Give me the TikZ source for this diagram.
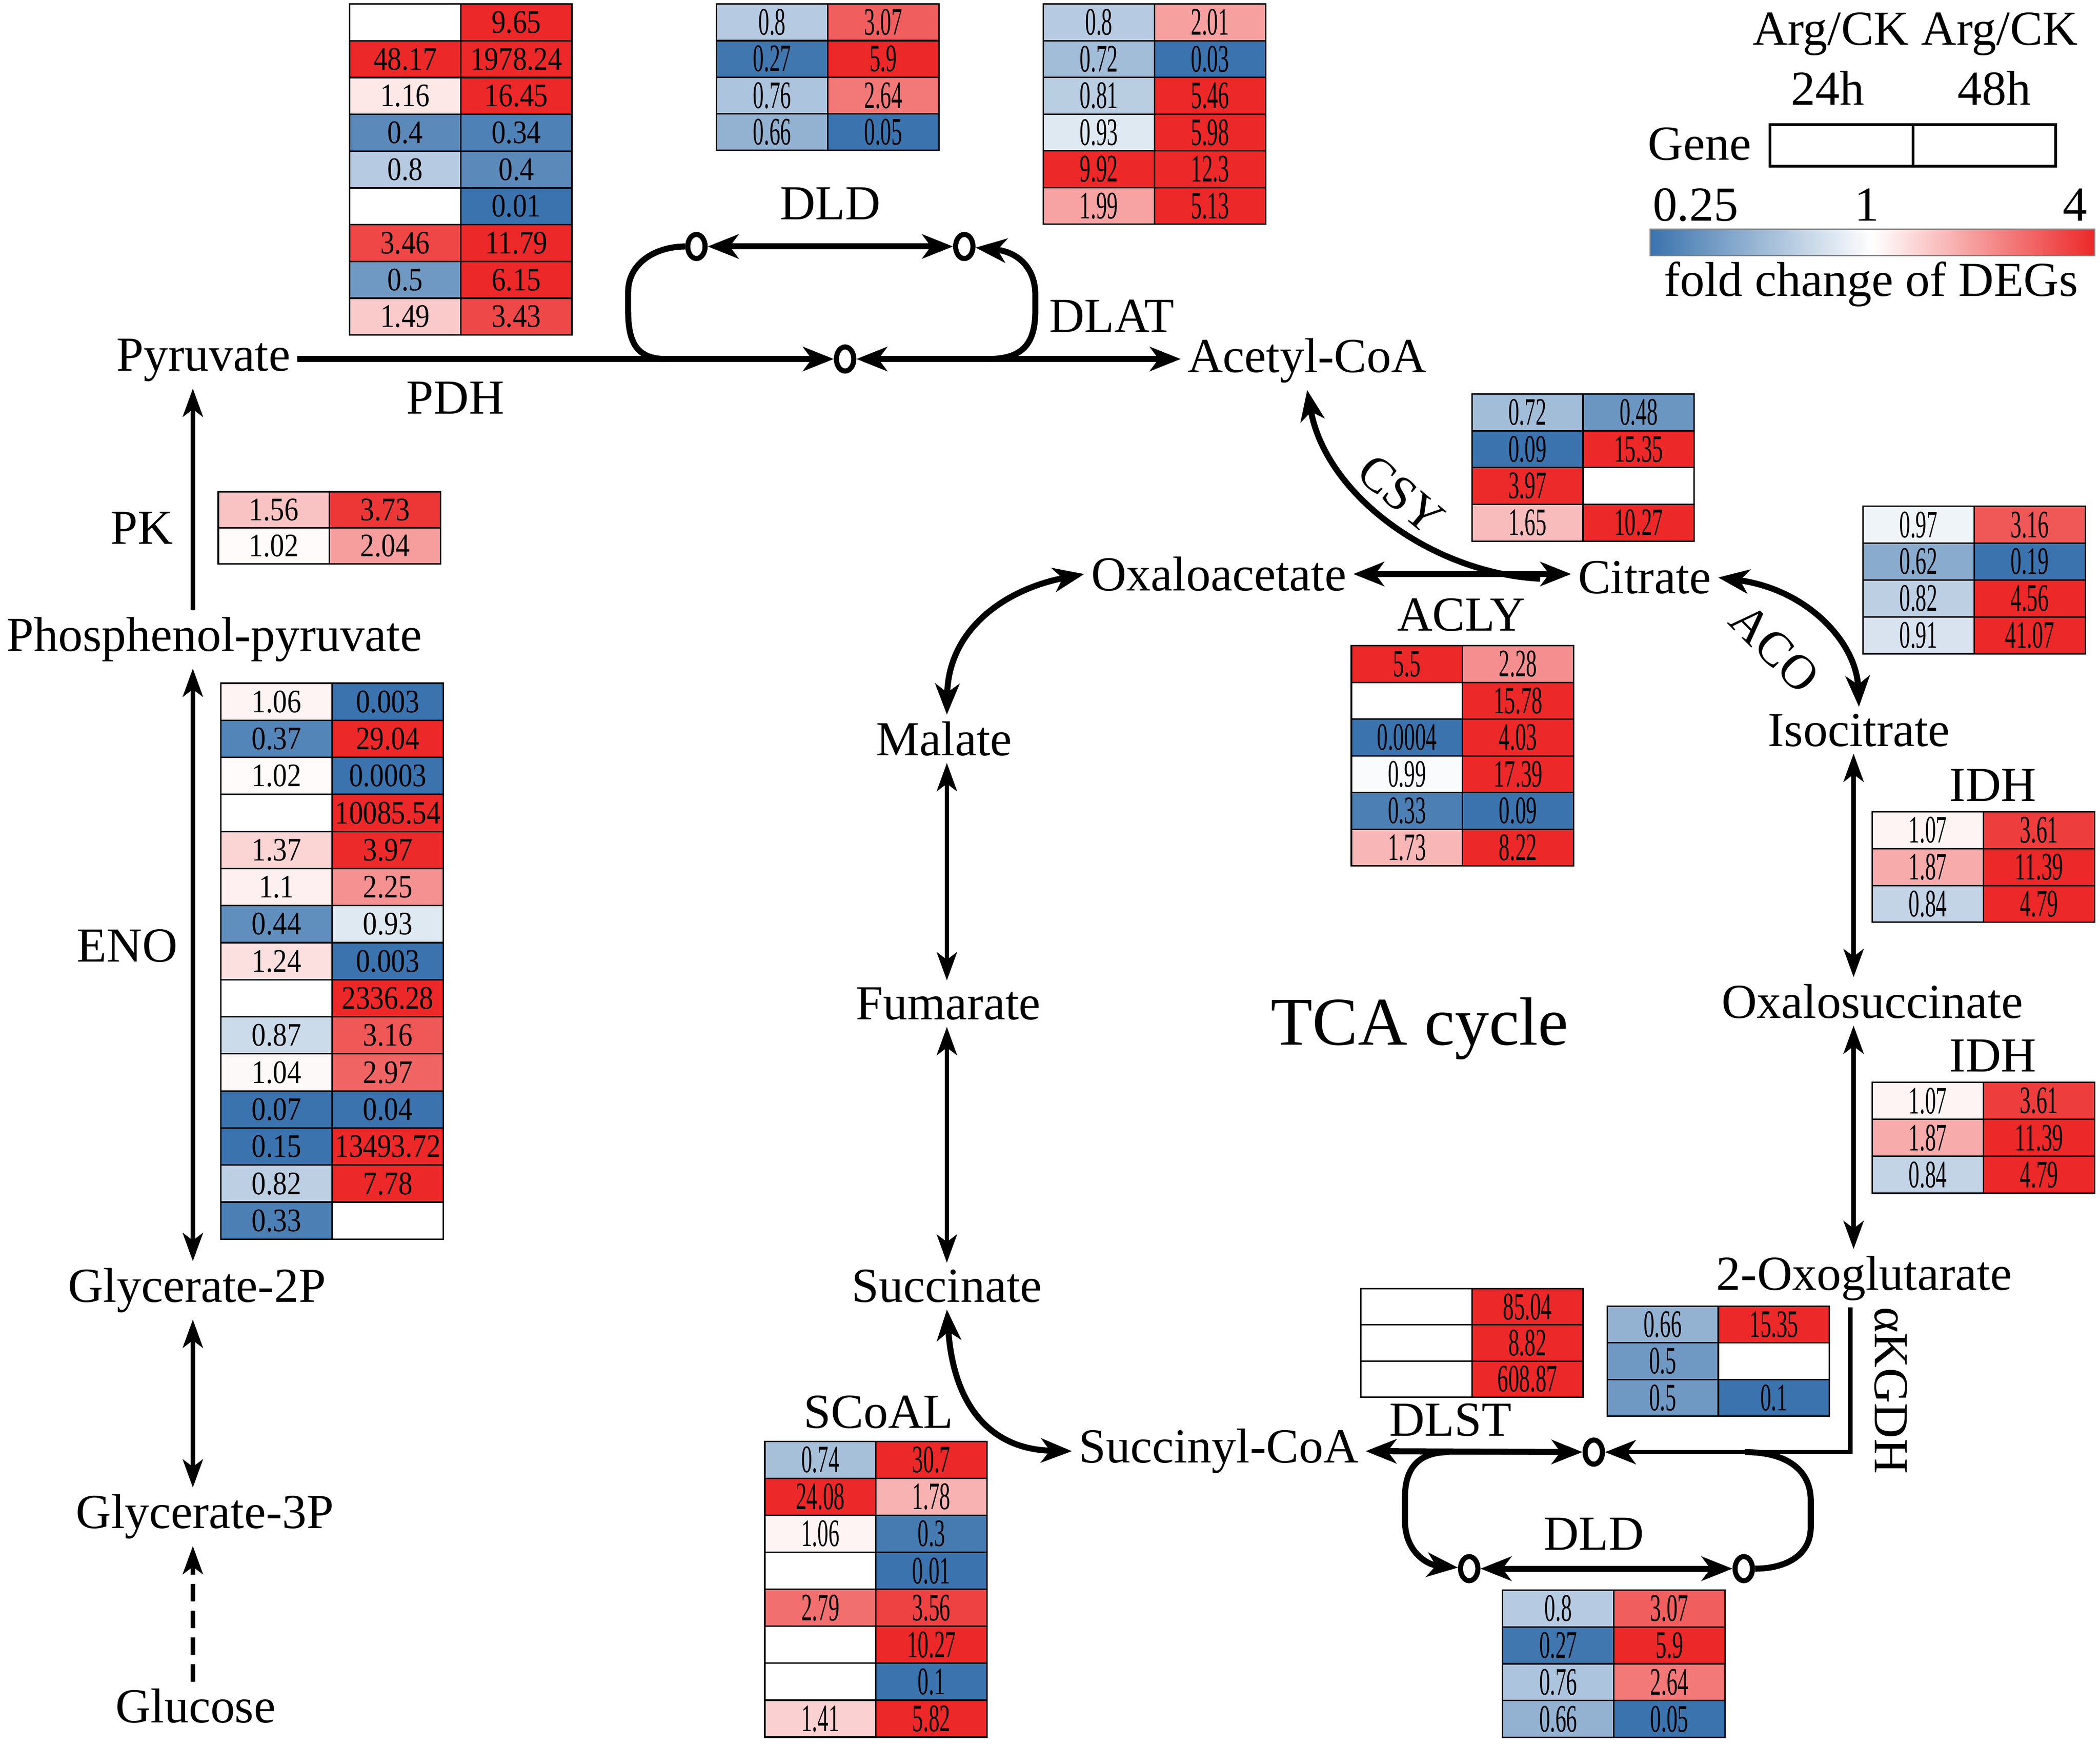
\documentclass[tikz,border=0pt]{standalone}
\usepackage{fontspec}
\setmainfont{Liberation Serif}
\newfontfamily\numnarrow[FakeStretch=0.56]{Liberation Serif}
\newfontfamily\numwide[FakeStretch=0.86]{Liberation Serif}
\usetikzlibrary{arrows.meta,shapes.geometric}
\definecolor{hblue}{RGB}{58,115,173}
\definecolor{hred}{RGB}{236,40,40}
\def\blankmark{-}
\newcommand\fA{\numwide\fontsize{24.5}{25}\selectfont}
\newcommand\fC{\numnarrow\fontsize{29}{30}\selectfont}
\newcommand\setcellcolour[1]{%
  \pgfmathsetmacro\cv{min(#1,5)}%
  \pgfmathsetmacro\cvlo{max(0.001,min(1,(1-\cv)/0.75))}%
  \pgfmathsetmacro\cvhi{max(0.001,min(1,(\cv-1)/3))}%
  \pgfmathtruncatemacro\plo{100*(\cvlo)^0.75}%
  \pgfmathtruncatemacro\phii{100*(\cvhi)^0.75}%
  \ifdim\cv pt<1pt\relax\colorlet{cellc}{hblue!\plo!white}\else\colorlet{cellc}{hred!\phii!white}\fi}
\newcommand\hcell[5]{%
  \edef\tmpv{#4}%
  \ifx\tmpv\blankmark
    \node[hmcell, minimum height=\rowh pt, fill=white] (#1) at (#2,#3) {};
  \else
    \setcellcolour{\tmpv}%
    \node[hmcell, minimum height=\rowh pt, fill=cellc, font=#5] (#1) at (#2,#3) {\tmpv};
  \fi}
\newcommand\heattab[6]{%
  \def\rowh{#4}%
  \foreach \a/\b [count=\i] in {#6}{%
    \pgfmathsetmacro\cy{#3+(\i-0.5)*#4}%
    \pgfmathsetmacro\cxa{#2+41.5}%
    \pgfmathsetmacro\cxb{#2+124.5}%
    \hcell{#1-\i-1}{\cxa}{\cy}{\a}{#5}%
    \hcell{#1-\i-2}{\cxb}{\cy}{\b}{#5}%
  }}
\tikzset{
  Tb/.tip={Stealth[length=23pt,width=18pt,inset=6.5pt]},
  Ts/.tip={Stealth[length=21pt,width=15pt,inset=5.5pt]},
  lab/.style={font=\fontsize{36.5}{40}\selectfont, inner sep=5pt, anchor=base},
  rlab/.style={font=\fontsize{36.5}{40}\selectfont, inner sep=2pt, anchor=center},
  hmcell/.style={draw, line width=1.1pt, minimum width=83pt, inner sep=0pt},
  ring/.style={ellipse, draw, fill=white, line width=3.8pt, minimum width=13pt, minimum height=18pt, inner sep=0pt},
  fat/.style={line width=4.5pt},
  med/.style={line width=3.3pt},
}
\begin{document}
\begin{tikzpicture}[x=1pt,y=-1pt]
\useasboundingbox (0,0) rectangle (1568,1302.6);

% ---------- heat tables ----------
\heattab{pdh}{261}{3}{27.45}{\fA}{-/9.65, 48.17/1978.24, 1.16/16.45, 0.4/0.34, 0.8/0.4, -/0.01, 3.46/11.79, 0.5/6.15, 1.49/3.43}
\heattab{dldt}{535}{3}{27.3}{\fC}{0.8/3.07, 0.27/5.9, 0.76/2.64, 0.66/0.05}
\heattab{dlat}{779}{3}{27.4}{\fC}{0.8/2.01, 0.72/0.03, 0.81/5.46, 0.93/5.98, 9.92/12.3, 1.99/5.13}
\heattab{pk}{163}{367}{27}{\fA}{1.56/3.73, 1.02/2.04}
\heattab{eno}{165}{510}{27.67}{\fA}{1.06/0.003, 0.37/29.04, 1.02/0.0003, -/10085.54, 1.37/3.97, 1.1/2.25, 0.44/0.93, 1.24/0.003, -/2336.28, 0.87/3.16, 1.04/2.97, 0.07/0.04, 0.15/13493.72, 0.82/7.78, 0.33/-}
\heattab{csy}{1099}{294}{27.5}{\fC}{0.72/0.48, 0.09/15.35, 3.97/-, 1.65/10.27}
\heattab{aco}{1391}{378}{27.5}{\fC}{0.97/3.16, 0.62/0.19, 0.82/4.56, 0.91/41.07}
\heattab{acly}{1009}{482}{27.4}{\fC}{5.5/2.28, -/15.78, 0.0004/4.03, 0.99/17.39, 0.33/0.09, 1.73/8.22}
\heattab{idha}{1398}{606}{27.5}{\fC}{1.07/3.61, 1.87/11.39, 0.84/4.79}
\heattab{idhb}{1398}{808}{27.6}{\fC}{1.07/3.61, 1.87/11.39, 0.84/4.79}
\heattab{kgdh}{1200}{975}{27.4}{\fC}{0.66/15.35, 0.5/-, 0.5/0.1}
\heattab{dlst}{1016}{962}{27}{\fC}{-/85.04, -/8.82, -/608.87}
\heattab{scoal}{571}{1076}{27.6}{\fC}{0.74/30.7, 24.08/1.78, 1.06/0.3, -/0.01, 2.79/3.56, -/10.27, -/0.1, 1.41/5.82}
\heattab{dldb}{1122}{1187}{27.5}{\fC}{0.8/3.07, 0.27/5.9, 0.76/2.64, 0.66/0.05}

% ---------- labels ----------
\node[lab] (pyr) at (152,277) {Pyruvate};
\node[lab] (pdhl) at (340,309) {PDH};
\node[lab] (acoa) at (976,278) {Acetyl-CoA};
\node[lab] (dld1) at (620,164) {DLD};
\node[lab] (dlatl) at (830,248) {DLAT};
\node[lab] (pkl) at (106,406) {PK};
\node[lab] (pep) at (160,486) {Phosphenol-pyruvate};
\node[lab] (enol) at (95,718) {ENO};
\node[lab] (g2p) at (147,972) {Glycerate-2P};
\node[lab] (g3p) at (153,1141) {Glycerate-3P};
\node[lab] (glc) at (146,1286) {Glucose};
\node[lab] (oaa) at (910,441) {Oxaloacetate};
\node[lab] (cit) at (1228,443) {Citrate};
\node[lab] (aclyl) at (1091,471) {ACLY};
\node[lab] (iso) at (1388,557) {Isocitrate};
\node[lab] (idh1) at (1488,598) {IDH};
\node[lab] (oxs) at (1398,760) {Oxalosuccinate};
\node[lab] (idh2) at (1488,800) {IDH};
\node[lab] (oxo) at (1392,963) {2-Oxoglutarate};
\node[lab, font=\fontsize{51}{56}\selectfont] (tca) at (1060,780) {TCA cycle};
\node[lab] (mal) at (705,564) {Malate};
\node[lab] (fum) at (708,761) {Fumarate};
\node[lab] (suc) at (707,972) {Succinate};
\node[lab] (scoall) at (656,1066) {SCoAL};
\node[lab] (sca) at (910,1092) {Succinyl-CoA};
\node[lab] (dlstl) at (1083,1072) {DLST};
\node[lab] (dld2) at (1190,1157) {DLD};
\node[rlab, rotate=-40] (csyl) at (1046,369) {CSY};
\node[rlab, rotate=-45] (acol) at (1325,484) {ACO};
\node[rlab, rotate=-90] (kgdhl) at (1412,1038) {αKGDH};

% ---------- legend ----------
\node[lab] (lgarg) at (1430,33.6) {Arg/CK Arg/CK};
\node[lab] (lg24) at (1364.5,78.5) {24h};
\node[lab] (lg48) at (1489,78.5) {48h};
\node[lab] (lggene) at (1269,119.5) {Gene};
\node[draw, line width=2pt, minimum width=106.75pt, minimum height=31pt, inner sep=0pt] (lgb1) at (1374.9,108.5) {};
\node[draw, line width=2pt, minimum width=106.75pt, minimum height=31pt, inner sep=0pt] (lgb2) at (1481.6,108.5) {};
\node[lab] (lglo) at (1266,165) {0.25};
\node[lab] (lgmid) at (1394,165) {1};
\node[lab] (lghi) at (1549.5,165) {4};
\node[draw=gray, line width=1pt, minimum width=332pt, minimum height=19.6pt, inner sep=0pt,
      left color=hblue, right color=hred, middle color=white] (lgbar) at (1398,180.8) {};
\node[lab] (lgfold) at (1397,221) {fold change of DEGs};

% ---------- rings and helper coordinates ----------
\node[ring] (c1) at (631,268) {};
\node[ring] (c2) at (520,184) {};
\node[ring] (c3) at (720,184) {};
\node[ring] (c4) at (1190,1084) {};
\node[ring] (c5) at (1097,1171) {};
\node[ring] (c6) at (1302,1171) {};
\coordinate (gx) at (144,0);
\coordinate (tx) at (707,0);
\coordinate (ix) at (1384,0);
\coordinate (kx) at (1381.5,0);
\coordinate (j1) at (497,268);
\coordinate (j2) at (738,268);
\coordinate (j3) at (1082,1084);
\coordinate (j4) at (1303,1084);
\coordinate (csyj) at (1150,432);

% ---------- PDH complex ----------
\draw[fat,-Tb] (pyr.east |- c1) -- (c1);
\draw[fat,Tb-Tb] (c1) -- (c1 -| acoa.west);
\draw[fat] (j1) .. controls (475,268) and (469,255) .. (469,232) -- (469,218)
  .. controls (469,196) and (490,184) .. (c2);
\draw[fat,-Tb] (j2) .. controls (765,268) and (773,255) .. (773,232) -- (773,220)
  .. controls (773,200) and (760,188) .. (c3);
\draw[fat,Tb-Tb] (c2) -- (c3);

% ---------- glycolysis ----------
\draw[med,-Ts] (pep.north -| gx) -- (pyr.south -| gx);
\draw[med,Ts-Ts] (pep.south -| gx) -- (g2p.north -| gx);
\draw[med,Ts-Ts] (g2p.south -| gx) -- (g3p.north -| gx);
\draw[med,-Ts,dash pattern=on 13pt off 7pt] (glc.north -| gx) -- (g3p.south -| gx);

% ---------- TCA ----------
\draw[fat,-Tb] (csyj) .. controls (1070,428) and (990,370) .. (acoa.south);
\draw[fat,Tb-Tb] (oaa.east) -- (oaa.east -| cit.west);
\draw[fat,Tb-Tb] (cit.east) .. controls (1350,440) and (1386,480) .. (iso.north);
\draw[med,Ts-Ts] (iso.south -| ix) -- (oxs.north -| ix);
\draw[med,Ts-Ts] (oxs.south -| ix) -- (oxo.north -| ix);
\draw[med,-Tb] (oxo.south -| kx) -- (kx |- c4) -- (c4);
\draw[fat,Tb-Tb] (sca.east) -- (c4);
\draw[fat,-Tb] (j3) .. controls (1058,1084) and (1049,1097) .. (1049,1118) -- (1049,1135)
  .. controls (1049,1158) and (1065,1168) .. (c5);
\draw[fat] (j4) .. controls (1335,1084) and (1352,1098) .. (1352,1120) -- (1352,1140)
  .. controls (1352,1162) and (1332,1171) .. (c6);
\draw[fat,Tb-Tb] (c5) -- (c6);
\draw[fat,Tb-Tb] (mal.north -| tx) .. controls (708,470) and (750,440) .. (oaa.west);
\draw[med,Ts-Ts] (mal.south -| tx) -- (fum.north -| tx);
\draw[med,Ts-Ts] (fum.south -| tx) -- (suc.north -| tx);
\draw[fat,Tb-Tb] (suc.south -| tx) .. controls (712,1050) and (740,1082) .. (sca.west);
\end{tikzpicture}
\end{document}
